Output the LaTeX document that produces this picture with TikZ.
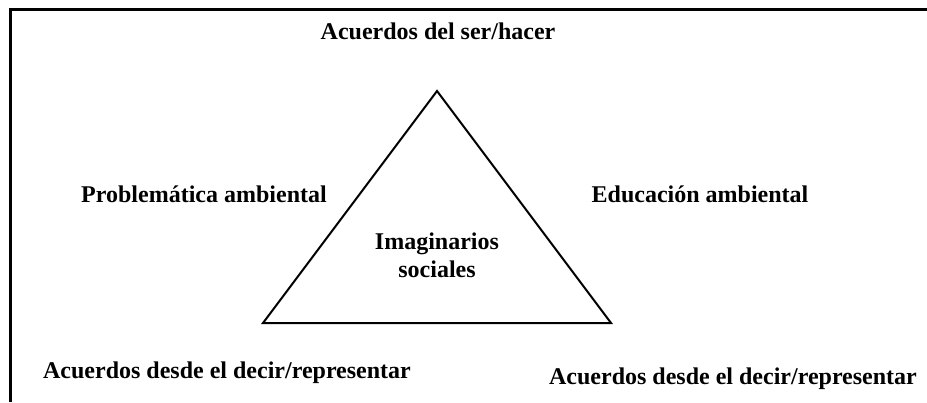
\documentclass[tikz,border=0pt]{standalone}
\usepackage{fontspec}
\setmainfont{Liberation Serif}
\begin{document}
\begin{tikzpicture}[x=0.5pt,y=-0.5pt,
    etiqueta/.style={font=\bfseries\fontsize{12}{13.8}\selectfont, inner sep=0pt, anchor=base}]
      \useasboundingbox (0,0) rectangle (927,402);
      % marco
      \draw[line width=1.25pt] (10.5,402) -- (10.5,9.5) -- (927,9.5);
      % triangulo
      \coordinate (arriba) at (437,91);
      \coordinate (izq) at (263,323);
      \coordinate (der) at (611,323);
      \draw[line width=1pt] (arriba) -- (izq) -- (der) -- cycle;
      \node[etiqueta] (ser) at (438,39) {Acuerdos del ser/hacer};
      \node[etiqueta] (problema) at (204,202) {Problemática ambiental};
      \node[etiqueta] (educacion) at (700,202) {Educación ambiental};
      \node[etiqueta, align=center] (imaginarios) at (437,277) {Imaginarios\\sociales};
      \node[etiqueta] (decirizq) at (227,378) {Acuerdos desde el decir/representar};
      \node[etiqueta] (decirder) at (733,384) {Acuerdos desde el decir/representar};
    \end{tikzpicture}
\end{document}
